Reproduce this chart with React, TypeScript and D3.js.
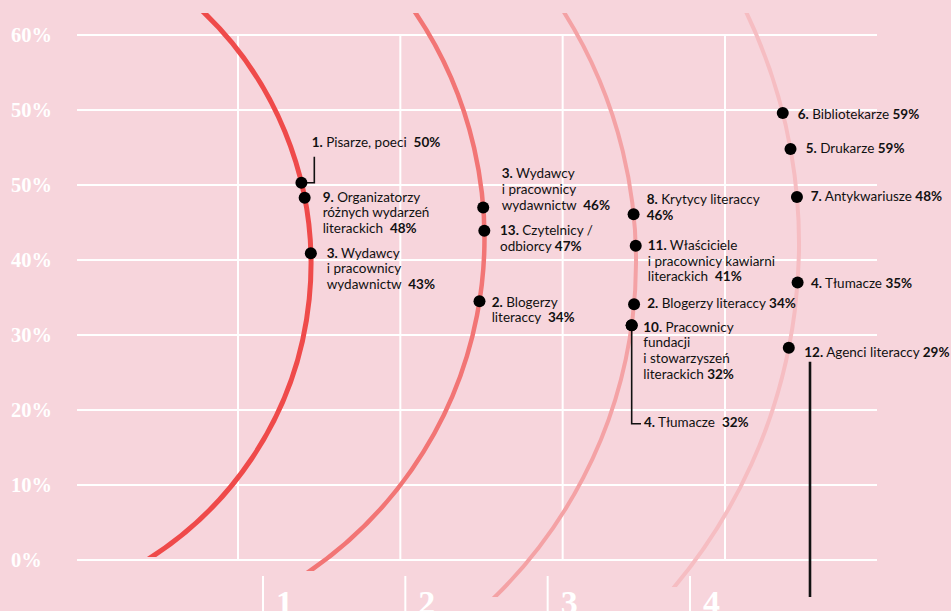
import React from 'react';
import * as d3 from 'd3';

const W = 951;
const H = 611;

// ---- data ----
const yTickValues = [0, 10, 20, 30, 40, 50, 60, 70];
const yTickLabels = ['0%', '10%', '20%', '30%', '40%', '50%', '50%', '60%'];
const xGridValues = [1, 2, 3, 4];
const categories = ['1', '2', '3', '4'];

const pointArc = [0, 0, 0, 1, 1, 1, 2, 2, 2, 2, 2, 3, 3, 3, 3, 3];
const pointNumbers = ['1.', '9.', '3.', '3.', '13.', '2.', '8.', '11.', '2.', '10.', '4.', '6.', '5.', '7.', '4.', '12.'];
const pointLines = [
  ['Pisarze, poeci  '],
  ['Organizatorzy', 'różnych wydarzeń', 'literackich  '],
  ['Wydawcy', 'i pracownicy', 'wydawnictw  '],
  ['Wydawcy', 'i pracownicy', 'wydawnictw  '],
  ['Czytelnicy /', 'odbiorcy '],
  ['Blogerzy', 'literaccy  '],
  ['Krytycy literaccy', ''],
  ['Właściciele', 'i pracownicy kawiarni', 'literackich  '],
  ['Blogerzy literaccy '],
  ['Pracownicy', 'fundacji', 'i stowarzyszeń', 'literackich '],
  ['Tłumacze  '],
  ['Bibliotekarze '],
  ['Drukarze '],
  ['Antykwariusze '],
  ['Tłumacze '],
  ['Agenci literaccy '],
];
const pointValues = [50, 48, 43, 46, 47, 34, 46, 41, 34, 32, 32, 59, 59, 48, 35, 29];
// vertical placement of each dot (axis units)
const pointPositions = [50.3, 48.3, 40.9, 47.0, 43.9, 34.5, 46.1, 41.9, 34.1, 31.3, 31.3, 59.6, 54.8, 48.4, 37.0, 28.3];

// ---- layout ----
const arcGeom = [
  { cx: -38, cy: 264, r: 349, y0: 13, y1: 557, w: 5, color: '#ef4a4a' },
  { cx: 80.4, cy: 238.5, r: 404, y0: 13, y1: 571, w: 4.5, color: '#f27575' },
  { cx: 167.5, cy: 261.8, r: 468.5, y0: 13, y1: 597, w: 4, color: '#f4a2a5' },
  { cx: 264.5, cy: 243.8, r: 534.5, y0: 13, y1: 587, w: 4, color: '#f6bdc2' },
];
const labelOffsets = [
  [10.3, -35.5], [18, 4], [15.9, 4.4],
  [18.5, -29.2], [15.7, 4.3], [12.2, 5.5],
  [13.1, -10.3], [12, 4.3], [13.2, 3.5], [11.6, 6.5], [12.3, 101.5],
  [14.9, 6], [15.1, 4.3], [13.8, 4], [13.4, 5.2], [15.5, 9],
];
const LINE_H = 15.7;
const BG = '#f7d5dc';

const yScale = d3.scaleLinear().domain([0, 70]).range([560, 35]);
const xGrid = d3.scaleLinear().domain([1, 4]).range([238, 725]);
const xCat = d3.scalePoint<string>().domain(categories).range([263, 690]).padding(0);
const GRID_X0 = 77;
const GRID_X1 = 877;

function arcX(i: number, y: number) {
  const g = arcGeom[i];
  const dy = y - g.cy;
  return g.cx + Math.sqrt(Math.max(0, g.r * g.r - dy * dy));
}

function arcPath(i: number) {
  const g = arcGeom[i];
  const ya = g.y0 - 6;
  const yb = g.y1 + 6;
  const a0 = Math.atan2(ya - g.cy, arcX(i, ya) - g.cx);
  const a1 = Math.atan2(yb - g.cy, arcX(i, yb) - g.cx);
  const p = d3.path();
  p.arc(g.cx, g.cy, g.r, a0, a1, false);
  return p.toString();
}

export default function App() {
  const pts = pointPositions.map((v, i) => {
    const y = yScale(v);
    const x = arcX(pointArc[i], y);
    return { x, y };
  });

  return (
    <svg
      width={W}
      height={H}
      viewBox={`0 0 ${W} ${H}`}
      style={{ position: 'absolute', left: 0, top: 0, display: 'block' }}
    >
      <defs>
        {arcGeom.map((g, i) => (
          <clipPath id={`arcclip${i}`} key={i}>
            <rect x={0} y={g.y0} width={W} height={g.y1 - g.y0} />
          </clipPath>
        ))}
      </defs>
      <rect x={0} y={0} width={W} height={H} fill={BG} />

      {/* horizontal grid */}
      {yTickValues.map((v) => (
        <line key={`h${v}`} x1={GRID_X0} x2={GRID_X1} y1={yScale(v)} y2={yScale(v)} stroke="#fff" strokeWidth={2} />
      ))}
      {/* vertical grid */}
      {xGridValues.map((v) => (
        <line key={`v${v}`} x1={xGrid(v)} x2={xGrid(v)} y1={yScale(70)} y2={yScale(0)} stroke="#fff" strokeWidth={2} />
      ))}

      {/* y labels */}
      {yTickValues.map((v, i) => (
        <text
          key={`yl${v}`}
          x={11}
          y={yScale(v) + 7}
          fill="#fff"
          fontFamily="'Liberation Serif', serif"
          fontWeight={700}
          fontSize={20.5}
        >
          {yTickLabels[i]}
        </text>
      ))}

      {/* x axis */}
      {categories.map((c) => (
        <g key={`xc${c}`}>
          <line x1={xCat(c)!} x2={xCat(c)!} y1={576} y2={H} stroke="#fff" strokeWidth={2} />
          <text
            x={xCat(c)! + 13}
            y={614}
            fill="#fff"
            fontFamily="'Liberation Serif', serif"
            fontWeight={700}
            fontSize={34}
          >
            {c}
          </text>
        </g>
      ))}

      {/* arcs */}
      {arcGeom.map((g, i) => (
        <path key={`arc${i}`} d={arcPath(i)} fill="none" stroke={g.color} strokeWidth={g.w} clipPath={`url(#arcclip${i})`} />
      ))}

      {/* leaders */}
      {(() => {
        const p0 = pts[0];
        const p10 = pts[10];
        const l10x = p10.x + labelOffsets[10][0];
        const l10y = p10.y + labelOffsets[10][1];
        const p15 = pts[15];
        const l15x = p15.x + labelOffsets[15][0];
        const l15y = p15.y + labelOffsets[15][1];
        return (
          <g fill="none" stroke="#111" strokeWidth={1.6}>
            <polyline points={`${p0.x},${p0.y} ${p0.x + 12.9},${p0.y} ${p0.x + 12.9},${p0.y - 26}`} />
            <polyline points={`${p10.x},${p10.y} ${p10.x},${l10y - 3} ${l10x - 3},${l10y - 3}`} />
            <line x1={l15x + 5.7} x2={l15x + 5.7} y1={l15y + 5} y2={597} strokeWidth={2.6} />
          </g>
        );
      })()}

      {/* dots */}
      {pts.map((p, i) => (
        <circle key={`d${i}`} cx={p.x} cy={p.y} r={6} fill="#000" />
      ))}

      {/* labels */}
      {pts.map((p, i) => {
        const lx = p.x + labelOffsets[i][0];
        const ly = p.y + labelOffsets[i][1];
        const lines = pointLines[i];
        return (
          <text
            key={`lab${i}`}
            x={lx}
            y={ly}
            fontFamily="Lato, 'Noto Sans', sans-serif"
            fontSize={13.5}
            fill="#111"
            xmlSpace="preserve"
            style={{ whiteSpace: 'pre' }}
          >
            {lines.map((ln, j) => (
              <tspan key={j} x={lx} y={ly + j * LINE_H}>
                {j === 0 ? <tspan fontWeight={700}>{pointNumbers[i]}</tspan> : null}
                {j === 0 ? ' ' + ln : ln}
                {j === lines.length - 1 ? <tspan fontWeight={700}>{`${pointValues[i]}%`}</tspan> : null}
              </tspan>
            ))}
          </text>
        );
      })}
    </svg>
  );
}
